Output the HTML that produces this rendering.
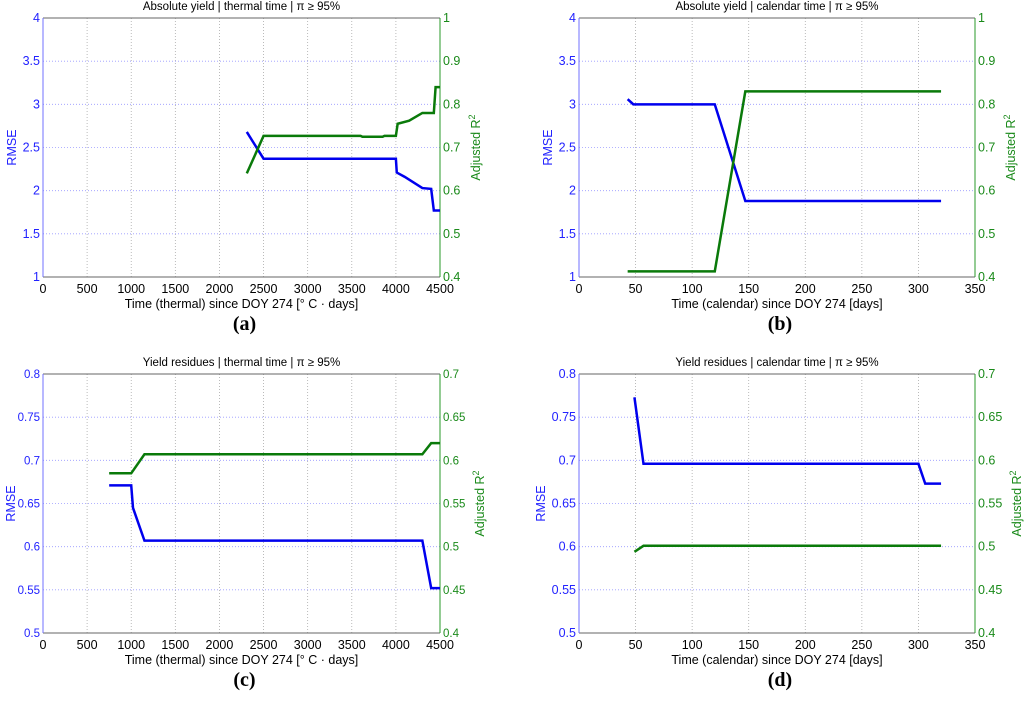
<!DOCTYPE html>
<html><head><meta charset="utf-8"><style>
body{margin:0;background:#fff;width:1024px;height:705px;overflow:hidden}
svg{display:block;font-family:"Liberation Sans",sans-serif}
</style></head><body>
<svg id="c" width="1024" height="705"></svg>
<script>
const xTicksThermal=[0,500,1000,1500,2000,2500,3000,3500,4000,4500];
const xTicksCal=[0,50,100,150,200,250,300,350];
const aBlue=[[2310,2.68],[2500,2.37],[4000,2.37],[4010,2.21],[4100,2.16],[4300,2.03],[4400,2.02],[4430,1.77],[4500,1.77]];
const aGreen=[[2310,0.64],[2500,0.727],[3600,0.727],[3620,0.725],[3850,0.725],[3870,0.727],[4000,0.727],[4020,0.755],[4150,0.762],[4300,0.78],[4430,0.78],[4450,0.84],[4500,0.84]];
const bBlue=[[43,3.06],[48,3.0],[120,3.0],[147,1.88],[320,1.88]];
const bGreen=[[43,0.413],[120,0.413],[147,0.83],[320,0.83]];
const cBlue=[[750,0.671],[1000,0.671],[1020,0.645],[1150,0.607],[4300,0.607],[4400,0.552],[4500,0.552]];
const cGreen=[[750,0.585],[1000,0.585],[1150,0.607],[4300,0.607],[4400,0.62],[4500,0.62]];
const dBlue=[[49,0.773],[57,0.696],[300,0.696],[306,0.673],[320,0.673]];
const dGreen=[[49,0.494],[57,0.501],[320,0.501]];
const yLeftA=[1,1.5,2,2.5,3,3.5,4], yRightA=[0.4,0.5,0.6,0.7,0.8,0.9,1];
const yLeftC=[0.5,0.55,0.6,0.65,0.7,0.75,0.8], yRightC=[0.4,0.45,0.5,0.55,0.6,0.65,0.7];
const svg=document.getElementById('c');
const NS='http://www.w3.org/2000/svg';
function mk(t,a,p){const e=document.createElementNS(NS,t);for(const k in a)e.setAttribute(k,a[k]);(p||svg).appendChild(e);return e;}
function panel(id,x0,x1,y0,y1,xt,yl,yr,blue,green,title,xlabel,letter,lo,ro,fs){
  const g=mk('g',{});
  
  
  const xmin=xt[0],xmax=xt[xt.length-1];
  const sx=v=>x0+(v-xmin)/(xmax-xmin)*(x1-x0);
  const syl=v=>y1-(v-yl[0])/(yl[yl.length-1]-yl[0])*(y1-y0);
  const syr=v=>y1-(v-yr[0])/(yr[yr.length-1]-yr[0])*(y1-y0);
  xt.forEach(v=>{
    if(v!==xmin&&v!==xmax)mk('line',{x1:sx(v),x2:sx(v),y1:y0,y2:y1,stroke:'#aaa','stroke-dasharray':'1,2','stroke-width':0.8},g);
    const t=mk('text',{x:sx(v),y:y1+16,'text-anchor':'middle','font-size':12.5,fill:'#000'},g);t.textContent=v;
    
  });
  yl.forEach((v,i)=>{
    if(i>0&&i<yl.length-1)mk('line',{x1:x0,x2:x1,y1:syl(v),y2:syl(v),stroke:'#99f','stroke-dasharray':'1,2','stroke-width':0.8},g);
    const t=mk('text',{x:x0-3,y:syl(v)+4,'text-anchor':'end','font-size':fs,fill:'#2222ff'},g);t.textContent=v;
    
  });
  yr.forEach(v=>{
    const t=mk('text',{x:x1+3,y:syr(v)+4,'font-size':fs,fill:'#1a8a1a'},g);t.textContent=v;
    
  });
  mk('line',{x1:x0,x2:x1,y1:y0,y2:y0,stroke:'#666'},g);
  mk('line',{x1:x0,x2:x1,y1:y1,y2:y1,stroke:'#666'},g);
  mk('line',{x1:x0,x2:x0,y1:y0,y2:y1,stroke:'#7070ff'},g);
  mk('line',{x1:x1,x2:x1,y1:y0,y2:y1,stroke:'#2a9a2a'},g);
  const pb=mk('polyline',{points:blue.map(p=>sx(p[0])+','+syl(p[1])).join(' '),fill:'none',stroke:'#0000ee','stroke-width':2.5},g);
  
  const pg=mk('polyline',{points:green.map(p=>sx(p[0])+','+syr(p[1])).join(' '),fill:'none',stroke:'#0a7a0a','stroke-width':2.5},g);
  
  const tt=mk('text',{x:(x0+x1)/2,y:y0-8,'text-anchor':'middle','font-size':11.5,fill:'#000'},g);tt.textContent=title;
  
  const xl=mk('text',{x:(x0+x1)/2,y:y1+31,'text-anchor':'middle','font-size':12.5,fill:'#000'},g);xl.textContent=xlabel;
  
  const ym=(y0+y1)/2;
  const yt=mk('text',{x:x0-lo,y:ym,'text-anchor':'middle','font-size':12.5,fill:'#2222ff',transform:`rotate(-90 ${x0-lo} ${ym})`},g);yt.textContent='RMSE';
  
  const rt=mk('text',{x:x1+ro,y:ym,'text-anchor':'middle','font-size':12.5,fill:'#1a8a1a',transform:`rotate(-90 ${x1+ro} ${ym})`},g);
  rt.innerHTML='Adjusted R<tspan dy="-5" font-size="9">2</tspan>';
  
  const lt=mk('text',{x:(x0+x1)/2+3,y:y1+53,'text-anchor':'middle','font-size':20,'font-weight':'bold','font-family':'Liberation Serif, serif',fill:'#000'},g);lt.textContent='('+letter+')';
  
}
panel('a',43,440,18,277,xTicksThermal,yLeftA,yRightA,aBlue,aGreen,'Absolute yield | thermal time | π ≥ 95%','Time (thermal) since DOY 274 [° C · days]','a',27,40,12.5);
panel('b',579,975,18,277,xTicksCal,yLeftA,yRightA,bBlue,bGreen,'Absolute yield | calendar time | π ≥ 95%','Time (calendar) since DOY 274 [days]','b',27,40,12.5);
panel('c',43,440,374,633,xTicksThermal,yLeftC,yRightC,cBlue,cGreen,'Yield residues | thermal time | π ≥ 95%','Time (thermal) since DOY 274 [° C · days]','c',28,44,11.5);
panel('d',579,975,374,633,xTicksCal,yLeftC,yRightC,dBlue,dGreen,'Yield residues | calendar time | π ≥ 95%','Time (calendar) since DOY 274 [days]','d',34,46,12.5);
</script>
</body></html>
